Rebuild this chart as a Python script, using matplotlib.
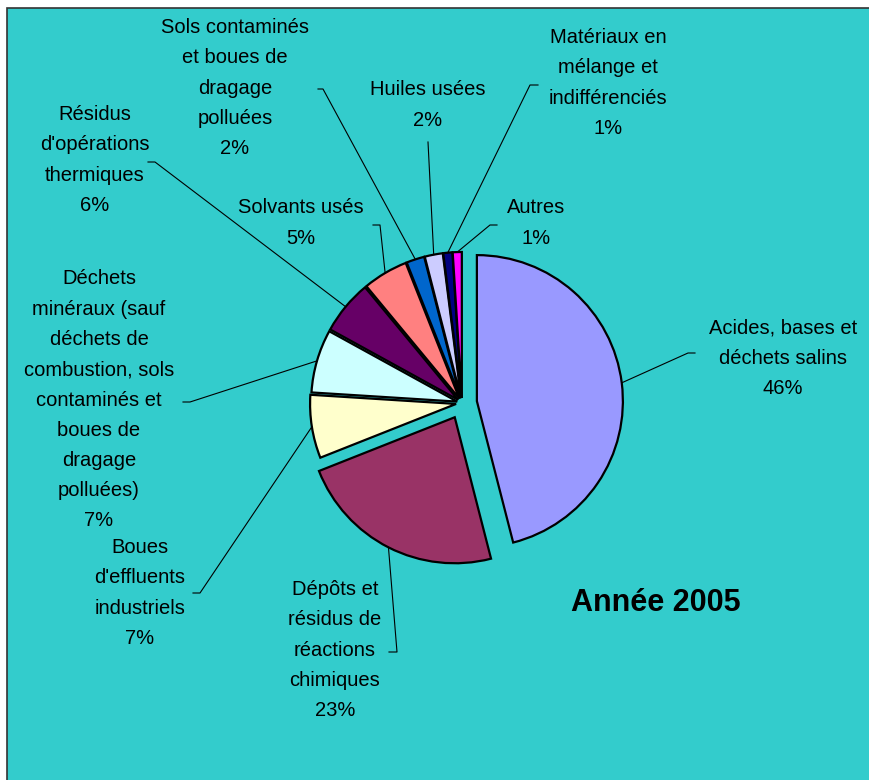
import numpy as np
import matplotlib.pyplot as plt
from matplotlib.patches import Rectangle

plt.rcParams['font.family'] = ['Liberation Sans', 'DejaVu Sans']

# Data
categories = [
    "Acides, bases et\ndéchets salins",
    "Dépôts et\nrésidus de\nréactions\nchimiques",
    "Boues\nd'effluents\nindustriels",
    "Déchets\nminéraux (sauf\ndéchets de\ncombustion, sols\ncontaminés et\nboues de\ndragage\npolluées)",
    "Résidus\nd'opérations\nthermiques",
    "Solvants usés",
    "Sols contaminés\net boues de\ndragage\npolluées",
    "Huiles usées",
    "Matériaux en\nmélange et\nindifférenciés",
    "Autres",
]
shares = [46, 23, 7, 7, 6, 5, 2, 2, 1, 1]
colors = ["#9999FF", "#993366", "#FFFFCC", "#CCFFFF", "#660066",
          "#FF8080", "#0066CC", "#CCCCFF", "#000080", "#FF00FF"]
explode = [15, 16, 6, 5, 5, 5, 5, 5, 5, 5]
title = "Année 2005"

# layout (pixel coords, y downwards): label centre, leader elbow, tick end
label_pos = [(783, 358), (335, 650), (140, 593), (99, 400), (95, 160),
             (301, 223), (235, 88), (428, 105), (608, 83), (536, 223)]
elbows = [(688, 353), (397, 652), (200, 593), (190, 402), (155, 162),
          (380, 225), (323, 89), (428, 142), (530, 85), (490, 225)]
ticks = [(695, 353), (389, 652), (193, 593), (183, 402), (148, 162),
         (373, 225), (318, 89), None, (538, 85), (497, 225)]

W, H = 869, 780
fig = plt.figure(figsize=(W / 100, H / 100), dpi=100, facecolor="white")
ax = fig.add_axes([0, 0, 1, 1])

ax.add_patch(Rectangle((7, 8), W + 10, H + 10, facecolor="#33CCCC",
                       edgecolor="#333333", linewidth=1.2, zorder=0))

# y axis is inverted, so counterclock in data = clockwise on screen
wedges, _ = ax.pie(shares, colors=colors, explode=explode, startangle=-90,
                   counterclock=True, radius=146, center=(462, 403),
                   wedgeprops=dict(edgecolor="black", linewidth=1.6),
                   frame=True)
ax.set_xlim(0, W)
ax.set_ylim(H, 0)
ax.set_aspect("equal")
ax.axis("off")

for w, cat, val, lp, el, tk in zip(wedges, categories, shares, label_pos, elbows, ticks):
    th = np.deg2rad((w.theta1 + w.theta2) / 2)
    cx, cy = w.center
    sx, sy = cx + w.r * np.cos(th), cy + w.r * np.sin(th)
    xs, ys = [sx, el[0]], [sy, el[1]]
    if tk is not None:
        xs.append(tk[0])
        ys.append(tk[1])
    ax.plot(xs, ys, color="black", linewidth=0.8, zorder=3)
    ax.text(lp[0], lp[1], f"{cat}\n{val}%", ha="center", va="center",
            fontsize=14.5, linespacing=1.75, color="black", zorder=4)

ax.text(656, 603, title, ha="center", va="center", fontsize=22,
        fontweight="bold", color="black")

fig.savefig("out.png", dpi=100, facecolor="white")
